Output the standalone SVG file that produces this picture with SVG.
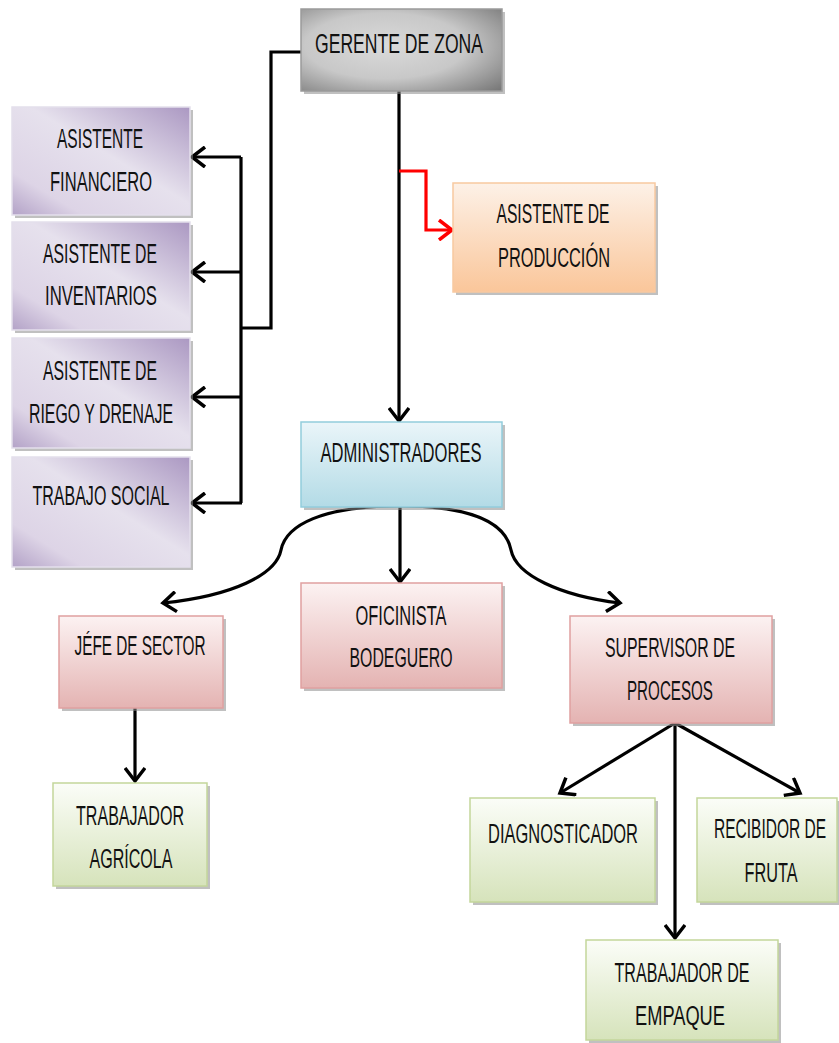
<svg xmlns="http://www.w3.org/2000/svg" width="839" height="1043" viewBox="0 0 839 1043">
<style>
.t{font-family:"Liberation Sans",Arial,sans-serif;font-size:27px;fill:#111111;text-anchor:middle}
.sh{fill:#8c8c8c;opacity:0.55}
.ln{fill:none;stroke:#000;stroke-width:3.2}
.red{fill:none;stroke:#ff0000;stroke-width:3.2}
.gz{fill:url(#gGray);stroke:#9a9a9a;stroke-width:1.5}
.pu{fill:url(#gPurple);stroke:#e4dfec;stroke-width:1.5}
.or{fill:url(#gOrange);stroke:#f8c9a0;stroke-width:1.5}
.bl{fill:url(#gBlue);stroke:#92cddc;stroke-width:1.5}
.pk{fill:url(#gPink);stroke:#e0a0a0;stroke-width:1.5}
.gr{fill:url(#gGreen);stroke:#c3d69b;stroke-width:1.5}
</style>
<defs>
<radialGradient id="gGray" cx="0.42" cy="0.45" r="0.8">
<stop offset="0" stop-color="#dadada"/><stop offset="0.5" stop-color="#c8c8c8"/><stop offset="1" stop-color="#747474"/>
</radialGradient>
<linearGradient id="gPurple" x1="1" y1="0" x2="0" y2="1">
<stop offset="0" stop-color="#ab98c2"/><stop offset="0.45" stop-color="#e6e1ed"/><stop offset="0.8" stop-color="#ddd4e6"/><stop offset="1" stop-color="#b3a2c7"/>
</linearGradient>
<linearGradient id="gOrange" x1="0" y1="0" x2="0" y2="1">
<stop offset="0" stop-color="#fdf1e7"/><stop offset="1" stop-color="#fac69a"/>
</linearGradient>
<linearGradient id="gBlue" x1="0" y1="0" x2="0" y2="1">
<stop offset="0" stop-color="#eaf5f9"/><stop offset="1" stop-color="#b3dbe6"/>
</linearGradient>
<linearGradient id="gPink" x1="0" y1="0" x2="0" y2="1">
<stop offset="0" stop-color="#fcf2f2"/><stop offset="1" stop-color="#e4b3b2"/>
</linearGradient>
<linearGradient id="gGreen" x1="0" y1="0" x2="0" y2="1">
<stop offset="0" stop-color="#fbfdf8"/><stop offset="1" stop-color="#d6e3bb"/>
</linearGradient>
<marker id="ah" markerUnits="userSpaceOnUse" markerWidth="20" markerHeight="22" viewBox="0 0 20 22" refX="15" refY="11" orient="auto">
<path d="M2,1 L15,11 L2,21" fill="none" stroke="#000" stroke-width="3.5"/>
</marker>
<marker id="ahr" markerUnits="userSpaceOnUse" markerWidth="20" markerHeight="22" viewBox="0 0 20 22" refX="15" refY="11" orient="auto">
<path d="M2,1 L15,11 L2,21" fill="none" stroke="#ff0000" stroke-width="3.5"/>
</marker>
</defs>
<rect width="839" height="1043" fill="#ffffff"/>

<g id="connectors">
<path class="ln" d="M301,52 H271 V328 H241"/>
<path class="ln" d="M241,157 V503"/>
<path class="ln" d="M241,157 H192" marker-end="url(#ah)"/>
<path class="ln" d="M241,272 H192" marker-end="url(#ah)"/>
<path class="ln" d="M241,397 H192" marker-end="url(#ah)"/>
<path class="ln" d="M242,503 H192" marker-end="url(#ah)"/>
<path class="ln" d="M399,91 V421" marker-end="url(#ah)"/>
<path class="red" d="M399,171 H426 V230 H452" marker-end="url(#ahr)"/>
<path class="ln" d="M400,506 C322,506 286,525 281,550 C276,575 232,596 163,603" marker-end="url(#ah)"/>
<path class="ln" d="M400,506 C476,506 506,525 511,550 C516,575 560,596 620,603" marker-end="url(#ah)"/>
<path class="ln" d="M400,507 V582" marker-end="url(#ah)"/>
<path class="ln" d="M135,708 V781" marker-end="url(#ah)"/>
<path class="ln" d="M675,723 L560,793" marker-end="url(#ah)"/>
<path class="ln" d="M675,723 L800,793" marker-end="url(#ah)"/>
<path class="ln" d="M675,723 V938" marker-end="url(#ah)"/>
</g>

<g id="gerente">
<rect class="sh" x="304" y="12" width="201" height="82"/>
<rect class="gz" x="301" y="9" width="201" height="82"/>
<text class="t" x="399" y="53" textLength="168" lengthAdjust="spacingAndGlyphs">GERENTE DE ZONA</text>
</g>

<g id="asistente-financiero">
<rect class="sh" x="15" y="110" width="178" height="108"/>
<rect class="pu" x="12" y="107" width="178" height="108"/>
<text class="t" x="100" y="148" textLength="86" lengthAdjust="spacingAndGlyphs">ASISTENTE</text>
<text class="t" x="101" y="191" textLength="102" lengthAdjust="spacingAndGlyphs">FINANCIERO</text>
</g>

<g id="asistente-inventarios">
<rect class="sh" x="15" y="225" width="178" height="108"/>
<rect class="pu" x="12" y="222" width="178" height="108"/>
<text class="t" x="100" y="263" textLength="114" lengthAdjust="spacingAndGlyphs">ASISTENTE DE</text>
<text class="t" x="101" y="305" textLength="112" lengthAdjust="spacingAndGlyphs">INVENTARIOS</text>
</g>

<g id="asistente-riego">
<rect class="sh" x="15" y="341" width="178" height="110"/>
<rect class="pu" x="12" y="338" width="178" height="110"/>
<text class="t" x="100" y="380" textLength="114" lengthAdjust="spacingAndGlyphs">ASISTENTE DE</text>
<text class="t" x="101" y="423" textLength="144" lengthAdjust="spacingAndGlyphs">RIEGO Y DRENAJE</text>
</g>

<g id="trabajo-social">
<rect class="sh" x="15" y="460" width="178" height="110"/>
<rect class="pu" x="12" y="457" width="178" height="110"/>
<text class="t" x="101" y="505" textLength="137" lengthAdjust="spacingAndGlyphs">TRABAJO SOCIAL</text>
</g>

<g id="asistente-produccion">
<rect class="sh" x="456" y="186" width="202" height="109"/>
<rect class="or" x="453" y="183" width="202" height="109"/>
<text class="t" x="553" y="223" textLength="113" lengthAdjust="spacingAndGlyphs">ASISTENTE DE</text>
<text class="t" x="554" y="267" textLength="112" lengthAdjust="spacingAndGlyphs">PRODUCCIÓN</text>
</g>

<g id="administradores">
<rect class="sh" x="304" y="425" width="201" height="85"/>
<rect class="bl" x="301" y="422" width="201" height="85"/>
<text class="t" x="401" y="462" textLength="161" lengthAdjust="spacingAndGlyphs">ADMINISTRADORES</text>
</g>

<g id="oficinista">
<rect class="sh" x="304" y="586" width="201" height="105"/>
<rect class="pk" x="301" y="583" width="201" height="105"/>
<text class="t" x="401" y="625" textLength="91" lengthAdjust="spacingAndGlyphs">OFICINISTA</text>
<text class="t" x="401" y="667" textLength="103" lengthAdjust="spacingAndGlyphs">BODEGUERO</text>
</g>

<g id="jefe-sector">
<rect class="sh" x="62" y="619" width="164" height="92"/>
<rect class="pk" x="59" y="616" width="164" height="92"/>
<text class="t" x="140" y="655" textLength="131" lengthAdjust="spacingAndGlyphs">JÉFE DE SECTOR</text>
</g>

<g id="supervisor">
<rect class="sh" x="573" y="619" width="202" height="107"/>
<rect class="pk" x="570" y="616" width="202" height="107"/>
<text class="t" x="670" y="657" textLength="130" lengthAdjust="spacingAndGlyphs">SUPERVISOR DE</text>
<text class="t" x="670" y="700" textLength="86" lengthAdjust="spacingAndGlyphs">PROCESOS</text>
</g>

<g id="trabajador-agricola">
<rect class="sh" x="56" y="786" width="154" height="103"/>
<rect class="gr" x="53" y="783" width="154" height="103"/>
<text class="t" x="130" y="825" textLength="108" lengthAdjust="spacingAndGlyphs">TRABAJADOR</text>
<text class="t" x="131" y="868" textLength="83" lengthAdjust="spacingAndGlyphs">AGRÍCOLA</text>
</g>

<g id="diagnosticador">
<rect class="sh" x="473" y="801" width="185" height="104"/>
<rect class="gr" x="470" y="798" width="185" height="104"/>
<text class="t" x="563" y="843" textLength="150" lengthAdjust="spacingAndGlyphs">DIAGNOSTICADOR</text>
</g>

<g id="recibidor">
<rect class="sh" x="700" y="801" width="139" height="104"/>
<rect class="gr" x="697" y="798" width="140" height="104"/>
<g transform="translate(770,838) scale(0.575,1)">
<text class="t" x="0" y="0">RECIBIDOR DE</text>
</g>
<text class="t" x="771" y="882" textLength="53" lengthAdjust="spacingAndGlyphs">FRUTA</text>
</g>

<g id="trabajador-empaque">
<rect class="sh" x="589" y="943" width="192" height="100"/>
<rect class="gr" x="586" y="940" width="192" height="100"/>
<text class="t" x="682" y="982" textLength="135" lengthAdjust="spacingAndGlyphs">TRABAJADOR DE</text>
<text class="t" x="680" y="1025" textLength="90" lengthAdjust="spacingAndGlyphs">EMPAQUE</text>
</g>
</svg>
